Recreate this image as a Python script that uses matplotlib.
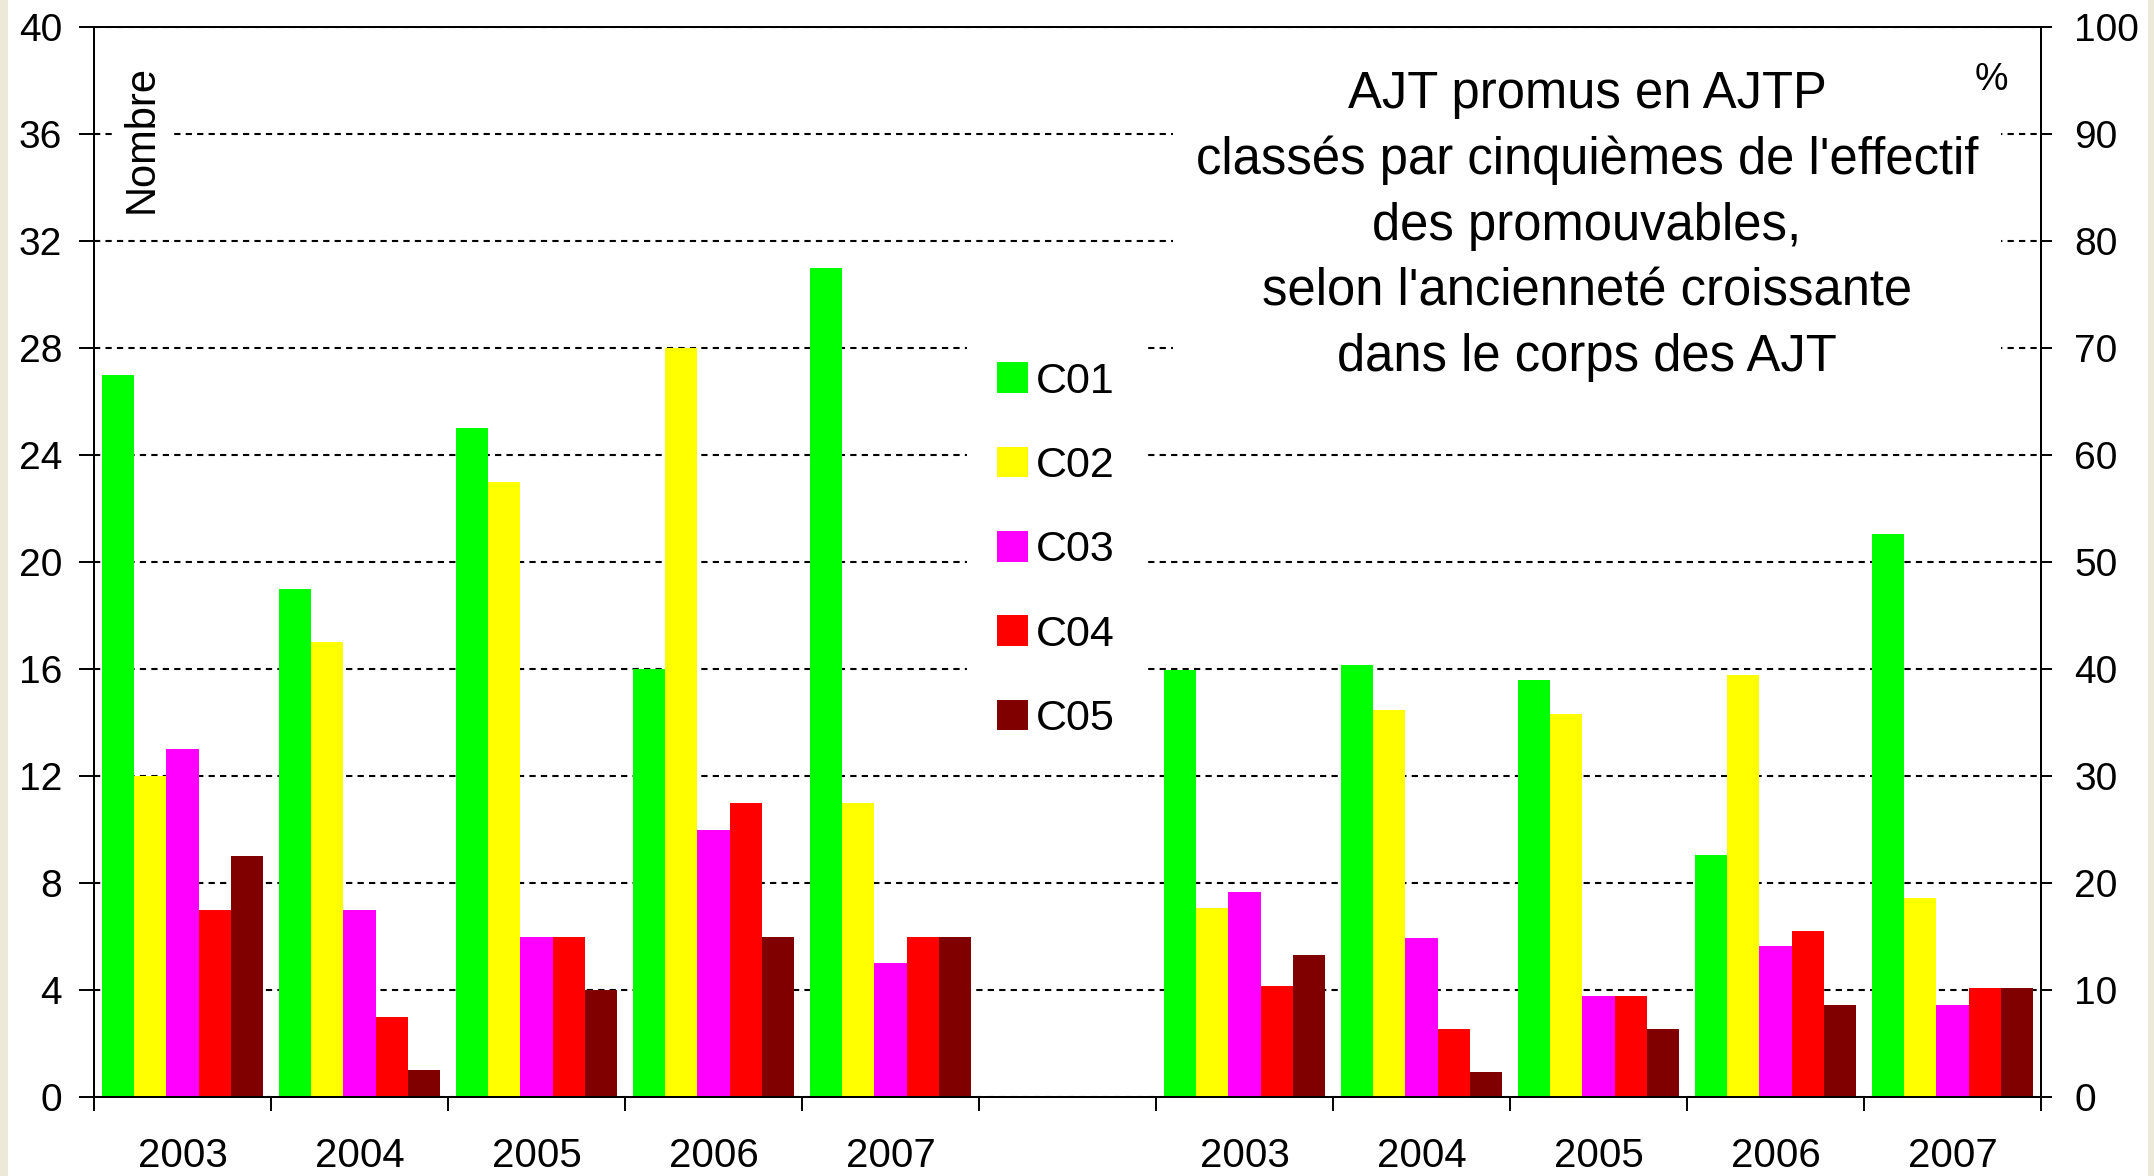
import numpy as np
import matplotlib
matplotlib.use("Agg")
import matplotlib.pyplot as plt
from matplotlib.patches import Rectangle

plt.rcParams['font.family'] = ['Liberation Sans', 'DejaVu Sans']

# données
annees = ['2003', '2004', '2005', '2006', '2007']
series = ['C01', 'C02', 'C03', 'C04', 'C05']
couleurs = ['#00FF00', '#FFFF00', '#FF00FF', '#FF0000', '#800000']

# nombre de promus (axe gauche)
nombre_c01 = [27, 19, 25, 16, 31]
nombre_c02 = [12, 17, 23, 28, 11]
nombre_c03 = [13, 7, 6, 10, 5]
nombre_c04 = [7, 3, 6, 11, 6]
nombre_c05 = [9, 1, 4, 6, 6]

# pourcentage (axe droit)
pct_c01 = [39.9, 40.4, 39.0, 22.6, 52.6]
pct_c02 = [17.7, 36.2, 35.8, 39.4, 18.6]
pct_c03 = [19.2, 14.9, 9.4, 14.1, 8.6]
pct_c04 = [10.4, 6.4, 9.4, 15.5, 10.2]
pct_c05 = [13.3, 2.3, 6.4, 8.6, 10.2]

nombres = [nombre_c01, nombre_c02, nombre_c03, nombre_c04, nombre_c05]
pcts = [pct_c01, pct_c02, pct_c03, pct_c04, pct_c05]

titre = ("AJT promus en AJTP\n"
         "classés par cinquièmes de l'effectif\n"
         "des promouvables,\n"
         "selon l'ancienneté croissante\n"
         "dans le corps des AJT")

W, H = 2154, 1176
fig = plt.figure(figsize=(W / 100, H / 100), dpi=100)
fig.patch.set_facecolor('#ECE9D8')
fig.patches.append(Rectangle((8 / W, 0), (2148 - 8) / W, 1, transform=fig.transFigure,
                             facecolor='white', edgecolor='none', zorder=-1))

ax = fig.add_axes([94 / W, 1 - 1097 / H, (2041 - 94) / W, (1097 - 27) / H])
ax2 = ax.twinx()

n = len(annees)
x_gauche = np.arange(n)
x_droite = np.arange(n) + n + 1
largeur = 0.912 / 5

handles = []
for i, (nom, col) in enumerate(zip(series, couleurs)):
    dx = (i - 2) * largeur
    b = ax.bar(x_gauche + dx, nombres[i], largeur, color=col, edgecolor='none', label=nom)
    ax2.bar(x_droite + dx, pcts[i], largeur, color=col, edgecolor='none')
    handles.append(b)

ax.set_xlim(-0.5, 2 * n + 0.5)
ax.set_ylim(0, 40)
ax2.set_ylim(0, 100)
ax.set_yticks(np.arange(0, 41, 4))
ax2.set_yticks(np.arange(0, 101, 10))

ax.set_xticks(np.concatenate([x_gauche, [n], x_droite]))
ax.set_xticklabels(annees + [''] + annees)
ax.set_xticks(np.arange(-0.5, 2 * n + 1, 1), minor=True)
ax.tick_params(axis='x', which='major', length=0, pad=29, labelsize=29)
ax.tick_params(axis='x', which='minor', length=10, width=1.4, direction='out')
ax.tick_params(axis='y', length=11, width=1.4, direction='out', pad=12, labelsize=28)
ax2.tick_params(axis='y', length=8, width=1.4, direction='out', pad=16, labelsize=28)

ax.set_axisbelow(True)
ax.yaxis.grid(True, color='black', linestyle=(0, (3, 2.5)), linewidth=1.5)
for a in (ax, ax2):
    for s in a.spines.values():
        s.set_linewidth(1.4)

fig.text(142 / W, 1 - 139 / H, 'Nombre', rotation=90, ha='center', va='center',
         fontsize=30, bbox=dict(facecolor='white', edgecolor='none', boxstyle='square,pad=0.2'))
fig.text(1587 / W, 1 - 226 / H, titre, ha='center', va='center', fontsize=36.5,
         linespacing=1.44, multialignment='center', zorder=3,
         bbox=dict(facecolor='white', edgecolor='none', boxstyle='square,pad=0.45'))
fig.text(1991 / W, 1 - 80 / H, '%', ha='center', va='center', fontsize=27, zorder=6)

fig.legend(handles=handles, labels=series, loc='upper left',
           bbox_to_anchor=(945 / W, 1 - 310 / H), fontsize=31,
           frameon=True, facecolor='white', edgecolor='none', framealpha=1,
           fancybox=False, borderpad=0.7, labelspacing=1.03,
           handlelength=0.72, handleheight=0.72, handletextpad=0.2)

fig.savefig('out.png', dpi=100, facecolor=fig.get_facecolor())
